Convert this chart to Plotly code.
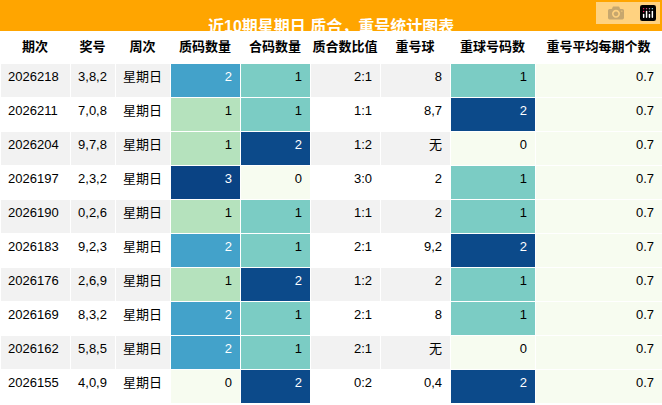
import plotly.graph_objects as go

periods = ["2026218","2026211","2026204","2026197","2026190","2026183","2026176","2026169","2026162","2026155"]
numbers = ["3,8,2","7,0,8","9,7,8","2,3,2","0,2,6","9,2,3","2,6,9","8,3,2","5,8,5","4,0,9"]
weekday = ["星期日"]*10
prime_cnt = [2,1,1,3,1,2,1,2,2,0]
comp_cnt = [1,1,2,0,1,1,2,1,1,2]
ratio = ["2:1","1:1","1:2","3:0","1:1","2:1","1:2","2:1","2:1","0:2"]
repeat_ball = ["8","8,7","无","2","2","9,2","2","8","无","0,4"]
repeat_cnt = [1,2,0,1,1,2,1,1,0,2]
repeat_avg = ["0.7"]*10
headers = ["期次","奖号","周次","质码数量","合码数量","质合数比值","重号球","重球号码数","重号平均每期个数"]

prime_col = {0:"#f7fcf0",1:"#b5e2bd",2:"#43a2ca",3:"#0a4384"}
two_col = {0:"#f7fcf0",1:"#7bccc4",2:"#0c4a8a"}
band = ["#f2f2f2" if i % 2 == 0 else "#ffffff" for i in range(10)]
FONT = "Liberation Sans, Noto Sans CJK SC"

def fc(v, dark):
    return "white" if v in dark else "black"

fills = [band, band, band,
         [prime_col[v] for v in prime_cnt],
         [two_col[v] for v in comp_cnt],
         band, band,
         [two_col[v] for v in repeat_cnt],
         ["#f7fcf0"]*10]
fcolors = ["black","black","black",
           [fc(v,(2,3)) for v in prime_cnt],
           [fc(v,(2,)) for v in comp_cnt],
           "black","black",
           [fc(v,(2,)) for v in repeat_cnt],
           "black"]

fig = go.Figure(go.Table(
    columnwidth=[70,45,55,70,70,70,70,85,127],
    header=dict(values=[f"<b>{h}</b>" for h in headers], fill_color="white",
                line_color="white", align="center", height=32,
                font=dict(family=FONT, size=13, color="black")),
    cells=dict(values=[periods,numbers,weekday,prime_cnt,comp_cnt,ratio,repeat_ball,repeat_cnt,repeat_avg],
               fill_color=fills, line_color="white",
               align=["left","center","center","right","right","right","right","right","right"],
               height=34,
               font=dict(family=FONT, size=13, color=fcolors)),
    domain=dict(x=[0,1], y=[0, 1-31/405]),
))
fig.add_shape(type="rect", xref="paper", yref="paper", x0=0, x1=1, y0=1-31/405, y1=1,
              fillcolor="#ffa500", line_width=0)
fig.add_annotation(text="<b>近10期星期日 质合，重号统计图表</b>", xref="paper", yref="paper",
                   x=0.5, y=1-15/405, showarrow=False,
                   font=dict(family=FONT, size=16, color="white"))
fig.update_layout(width=662, height=405, margin=dict(l=0,r=0,t=0,b=0),
                  paper_bgcolor="white")
fig.write_html("out.html", post_script="document.body.style.margin='0';document.body.style.overflow='hidden';")
